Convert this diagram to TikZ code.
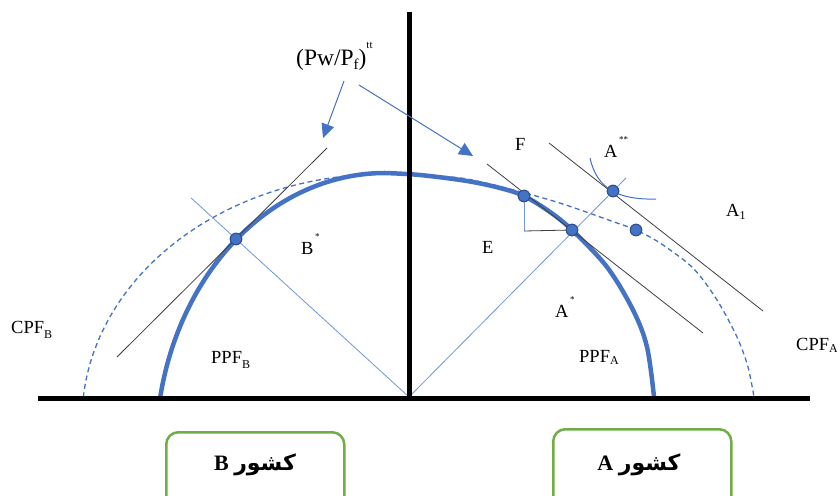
\documentclass[tikz,border=0pt]{standalone}
\usepackage{fontspec}
\setmainfont{Liberation Serif}
\newfontfamily\arabicfont[Script=Arabic]{DejaVu Sans}
\TeXXeTstate=1
\usetikzlibrary{arrows.meta,calc}
\definecolor{mblue}{HTML}{4472C4}
\definecolor{dblue}{HTML}{2F528F}
\definecolor{lblue}{HTML}{7097DA}
\definecolor{lgreen}{HTML}{70AD47}
\definecolor{lgray}{HTML}{404040}
\newcommand\lsub[2]{\raisebox{#1}{\fontsize{12}{12}\selectfont #2}}
\newcommand\lstar[1]{\hspace{1.5pt}\raisebox{15pt}{\fontsize{9}{9}\selectfont #1}}
\begin{document}
\begin{tikzpicture}[x=1pt,y=-1pt,
  axis/.style={line width=5pt,black},
  ppf/.style={line width=4.5pt,mblue},
  cpf/.style={line width=1.3pt,mblue,dash pattern=on 5pt off 3.5pt},
  tang/.style={line width=0.8pt,lgray},
  ray/.style={line width=0.8pt,lblue},
  dotn/.style={circle,fill=mblue,draw=dblue,line width=1pt,minimum size=11.5pt,inner sep=0pt},
  lab/.style={font=\fontsize{18.5}{21}\selectfont,inner sep=0pt,anchor=base west},
  arr/.style={line width=1pt,mblue,-{Triangle[length=14pt,width=13pt]}},
  cbox/.style={draw=lgreen,line width=2.5pt,rounded corners=12pt},
]
\clip (0,0) rectangle (837,495);
\fill[white] (0,0) rectangle (837,495);

% curves
\draw[cpf] plot[domain=174.7:90,samples=70] ({385+303*cos(\x)},{420-246*sin(\x)})
  -- plot[smooth,tension=0.5] coordinates {(385,174) (409,175) (467,179) (550,200) (617,223) (636,230) (660,243) (693,268) (717,300) (737,337) (748,367) (754,397)};
\draw[ppf] plot[domain=169:90,samples=70] ({385+229*cos(\x)},{450-277*sin(\x)})
  -- plot[smooth,tension=0.55] coordinates {(385,173) (420,175) (467,181) (500,188) (524,196) (550,212) (572,230) (607,267) (633,310) (647,347) (654,397)};

% points
\coordinate (O) at (409,397);
\node[dotn] (dB) at (236,239) {};
\node[dotn] (dF) at (524,196) {};
\node[dotn] (dE) at (572,230) {};
\node[dotn] (dS) at (613,191) {};
\node[dotn] (dC) at (636,230) {};

% rays from origin
\coordinate (rB) at ($(O)!1.26!(dB.center)$);
\coordinate (rA) at (626,178);
\draw[ray] (O) -- (rB);
\draw[ray] (O) -- (rA);

% tangent lines
\coordinate (tB1) at (117,357); \coordinate (tB2) at (327,148);
\coordinate (tA1) at (487,164); \coordinate (tA2) at (703,333);
\coordinate (tS1) at (549,143); \coordinate (tS2) at (763,311);
\draw[tang] (tB1) -- (tB2);
\draw[tang] (tA1) -- (tA2);
\draw[tang] (tS1) -- (tS2);

% right angle
\coordinate (rc) at (524,231);
\draw[ray] (dF.center) -- (rc);
\draw[tang] (rc) -- (dE.center);

% indifference curve
\coordinate (ic1) at (590,158); \coordinate (ic2) at (656,199);
\draw[line width=1pt,mblue] (ic1) .. controls (597,190) and (620,200) .. (ic2);

% axes
\coordinate (xl) at (38,398); \coordinate (xr) at (810,398);
\coordinate (yt) at (409,12); \coordinate (yb) at (409,400);
\draw[axis] (xl) -- (xr);
\draw[axis] (yt) -- (yb);

% dots on top
\foreach \n in {dB,dF,dE,dS,dC} {\node[dotn] at (\n) {};}

% labels
\node[lab] (lF) at (515,150) {F};
\node[lab] (lAss) at (604,157) {A\lstar{**}};
\node[lab] (lA1) at (726,216) {A\lsub{-3pt}{1}};
\node[lab] (lBs) at (301,254) {B\lstar{*}};
\node[lab] (lE) at (482,253) {E};
\node[lab] (lAs) at (555,317) {A\lstar{*}};
\node[lab] (lPPFB) at (211,363) {PPF\lsub{-5pt}{B}};
\node[lab] (lPPFA) at (579,362) {PPF\lsub{-2pt}{A}};
\node[lab] (lCPFB) at (11,333) {CPF\lsub{-5pt}{B}};
\node[lab] (lCPFA) at (796,350) {CPF\lsub{-2pt}{A}};

% price ratio label and arrows
\node[anchor=base west,inner sep=0pt,font=\fontsize{23.5}{26}\selectfont] (lP) at (296,65)
  {(Pw/P\raisebox{-5pt}{\fontsize{15}{15}\selectfont f})\raisebox{17pt}{\fontsize{11}{11}\selectfont tt}};
\coordinate (a1s) at (344,81); \coordinate (a1e) at (323,138);
\coordinate (a2s) at (359,85); \coordinate (a2e) at (473,156);
\draw[arr] (a1s) -- (a1e);
\draw[arr] (a2s) -- (a2e);

% country boxes
\node[cbox,anchor=north west,minimum width=178pt,minimum height=100pt] (bxB) at (165,431) {};
\node[cbox,anchor=north west,minimum width=178pt,minimum height=100pt] (bxA) at (552,428) {};
\node[font=\fontsize{22}{25}\selectfont\bfseries,inner sep=0pt] (tB) at (255,465) {B {\arabicfont\beginR کشور\endR}};
\node[font=\fontsize{22}{25}\selectfont\bfseries,inner sep=0pt] (tA) at (639,465) {A {\arabicfont\beginR کشور\endR}};
\end{tikzpicture}
\end{document}
